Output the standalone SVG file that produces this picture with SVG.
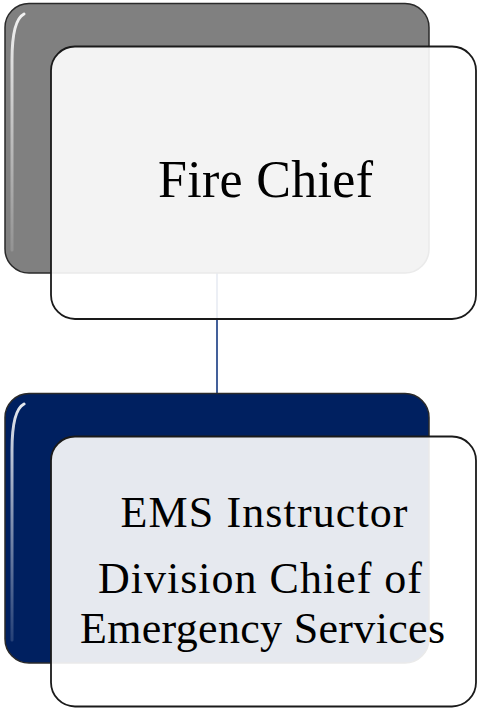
<svg xmlns="http://www.w3.org/2000/svg" width="478" height="708" viewBox="0 0 478 708">
<defs>
<linearGradient id="gloss" x1="0" y1="0" x2="0" y2="1">
<stop offset="0" stop-color="#fff" stop-opacity="0.9"/>
<stop offset="0.5" stop-color="#fff" stop-opacity="0.5"/>
<stop offset="1" stop-color="#fff" stop-opacity="0.15"/>
</linearGradient>
<style>
.back{stroke:#2a2a2a;stroke-width:1.5}
.front{fill:#fff;fill-opacity:0.9;stroke:#1a1a1a;stroke-width:1.8}
.gl{fill:none;stroke:url(#gloss);stroke-width:3;stroke-linecap:round}
.t{font-family:"Liberation Serif","Times New Roman",serif;fill:#000;text-anchor:middle}
.conn{stroke:#2f4f8f;stroke-width:1.8;fill:none}
</style>
</defs>
<rect width="478" height="708" fill="#fff"/>
<g id="connectors">
<line class="conn" x1="217" y1="273" x2="217" y2="394"/>
</g>
<g id="node-fire-chief">
<rect class="back" x="5" y="3.5" width="424" height="269.5" rx="24" fill="#808080"/>
<path class="gl" d="M12,60 Q12,20 24,14 M12,60 L12,250"/>
<path class="gl" d="M422,32 L422,60" stroke-opacity="0.6"/>
<rect class="front" x="51" y="46.5" width="425" height="272.5" rx="24"/>
<text class="t" x="265.5" y="197" font-size="52" textLength="215">Fire Chief</text>
</g>
<g id="node-ems">
<rect class="back" x="5" y="393.5" width="424" height="269.5" rx="24" fill="#002060"/>
<path class="gl" d="M12,450 Q12,410 24,404 M12,450 L12,640"/>
<path class="gl" d="M422,422 L422,450" stroke-opacity="0.6"/>
<rect class="front" x="51" y="436.5" width="425" height="270" rx="24"/>
<text class="t" x="264" y="527" font-size="44" textLength="287">EMS Instructor</text>
<text class="t" x="260" y="593" font-size="44" textLength="324">Division Chief of</text>
<text class="t" x="262.5" y="643" font-size="44" textLength="365">Emergency Services</text>
</g>
</svg>
